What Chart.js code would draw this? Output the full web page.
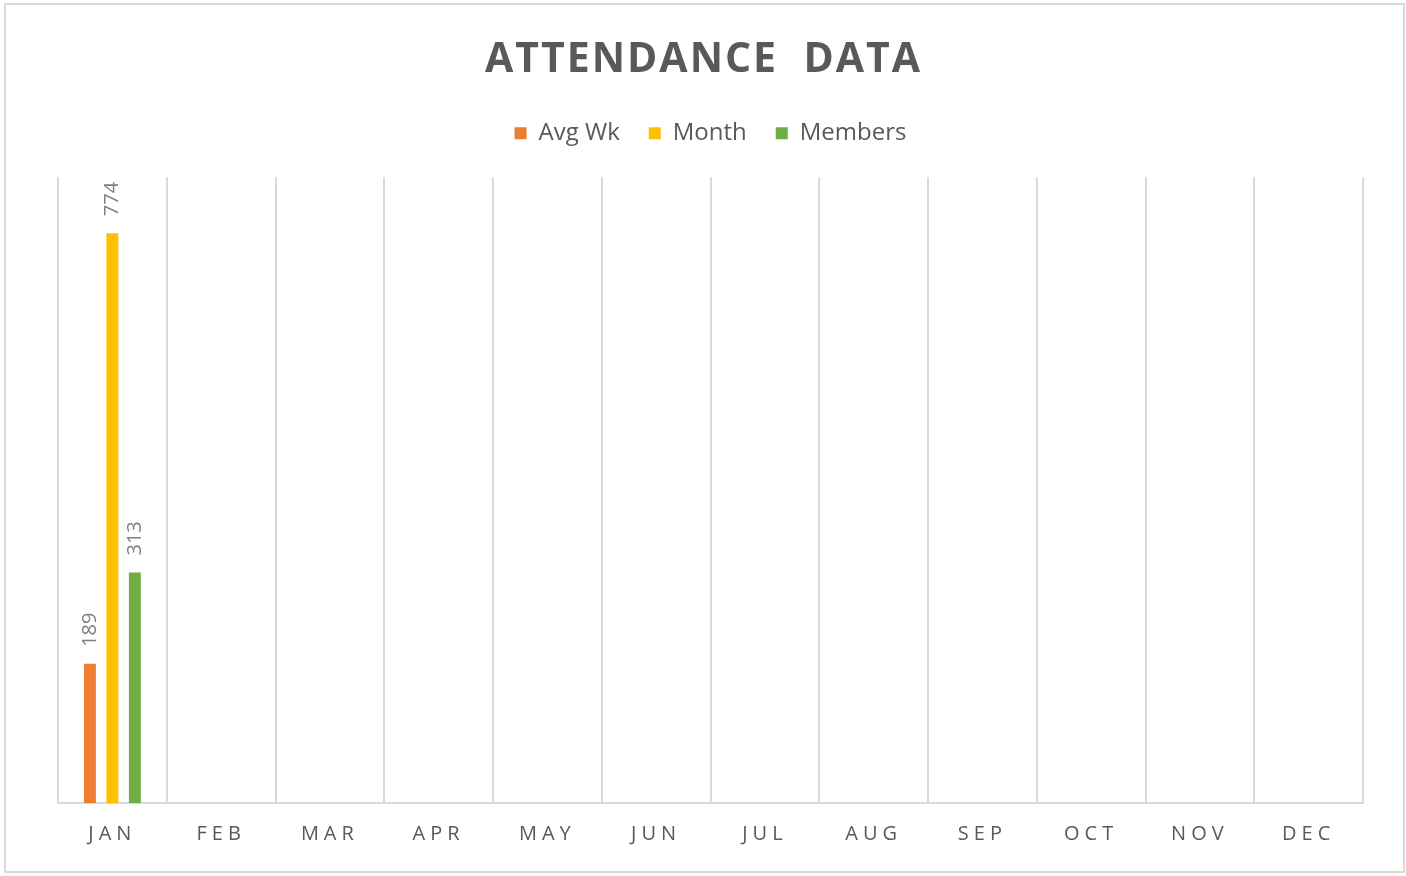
<!DOCTYPE html>
<html lang="en">
<head>
    <meta charset="UTF-8">
    <title>Attendance Data</title>
    <script src="https://cdn.jsdelivr.net/npm/chart.js"></script>
    <style>
        body {
            margin: 0;
            background: #fff;
        }
        /* marco gris alrededor de todo el gráfico */
        .marco {
            position: absolute;
            left: 4px;
            top: 3px;
            width: 1401px;
            height: 870px;
            border: 2px solid #d9d9d9;
            box-sizing: border-box;
        }
    </style>
</head>
<body>
    <div class="marco">
        <canvas id="graficaAsistencia"></canvas>
    </div>

    <script>
        // Datos del gráfico
        const meses = ['JAN', 'FEB', 'MAR', 'APR', 'MAY', 'JUN', 'JUL', 'AUG', 'SEP', 'OCT', 'NOV', 'DEC'];
        const avgWk = [189, null, null, null, null, null, null, null, null, null, null, null];
        const month = [774, null, null, null, null, null, null, null, null, null, null, null];
        const members = [313, null, null, null, null, null, null, null, null, null, null, null];

        const gris = '#595959';
        const lineas = '#d9d9d9';

        // Espaciado entre letras (y pequeño desplazamiento) para título y eje X
        function conEspaciado(obj, metodo, espacio, dx) {
            const original = obj[metodo];
            obj[metodo] = function (...args) {
                const ctx = this.ctx;
                ctx.save();
                ctx.translate(dx, 0);
                ctx.letterSpacing = espacio;
                original.apply(this, args);
                ctx.letterSpacing = '0px';
                ctx.restore();
            };
        }

        const espaciado = {
            id: 'espaciado',
            afterInit(chart) {
                // un poco más de aire entre la leyenda y el área de barras
                const fitOriginal = chart.legend.fit;
                chart.legend.fit = function () {
                    fitOriginal.call(this);
                    this.height += 22;
                };
            },
            beforeDraw(chart) {
                if (chart._espaciado) return;
                chart._espaciado = true;
                conEspaciado(chart.titleBlock, 'draw', '2px', -7);
                conEspaciado(chart.scales.x, 'drawLabels', '5px', 0);
            }
        };

        // Valores encima de las barras, girados
        const etiquetas = {
            id: 'etiquetas',
            afterDatasetsDraw(chart) {
                const ctx = chart.ctx;
                ctx.save();
                ctx.font = '20px "Open Sans"';
                ctx.fillStyle = '#7f7f7f';
                ctx.textAlign = 'left';
                ctx.textBaseline = 'middle';
                chart.data.datasets.forEach((ds, i) => {
                    chart.getDatasetMeta(i).data.forEach((bar, j) => {
                        const v = ds.data[j];
                        if (v === null || v === undefined) return;
                        ctx.save();
                        ctx.translate(bar.x, bar.y - 17);
                        ctx.rotate(-Math.PI / 2);
                        ctx.fillText(String(v), 0, 0);
                        ctx.restore();
                    });
                });
                ctx.restore();
            }
        };

        const ctx = document.getElementById('graficaAsistencia').getContext('2d');
        const grafica = new Chart(ctx, {
            type: 'bar',
            data: {
                labels: meses,
                datasets: [
                    { label: 'Avg Wk', data: avgWk, backgroundColor: '#ED7D31', borderWidth: 0 },
                    { label: 'Month', data: month, backgroundColor: '#FFC000', borderWidth: 0 },
                    { label: 'Members', data: members, backgroundColor: '#70AD47', borderWidth: 0 }
                ]
            },
            options: {
                responsive: true,
                maintainAspectRatio: false,
                animation: false,
                categoryPercentage: 0.62,
                barPercentage: 0.53,
                layout: {
                    padding: { left: 52, right: 40, top: 0, bottom: 6 }
                },
                plugins: {
                    title: {
                        display: true,
                        text: 'ATTENDANCE  DATA',
                        color: gris,
                        font: { family: 'Open Sans', size: 41, weight: 'bold', lineHeight: 1.2 },
                        padding: { top: 31, bottom: 7 }
                    },
                    legend: {
                        position: 'top',
                        labels: {
                            color: gris,
                            boxWidth: 12,
                            boxHeight: 12,
                            padding: 29,
                            font: { family: 'Open Sans', size: 24 }
                        }
                    },
                    tooltip: { enabled: false }
                },
                scales: {
                    x: {
                        grid: {
                            color: lineas,
                            lineWidth: 2,
                            drawTicks: false,
                            offset: true
                        },
                        border: { display: true, color: lineas, width: 2 },
                        ticks: {
                            color: gris,
                            padding: 19,
                            font: { family: 'Open Sans', size: 20 }
                        }
                    },
                    y: {
                        display: false,
                        min: 0,
                        max: 850
                    }
                }
            },
            plugins: [espaciado, etiquetas]
        });
    </script>
</body>
</html>
